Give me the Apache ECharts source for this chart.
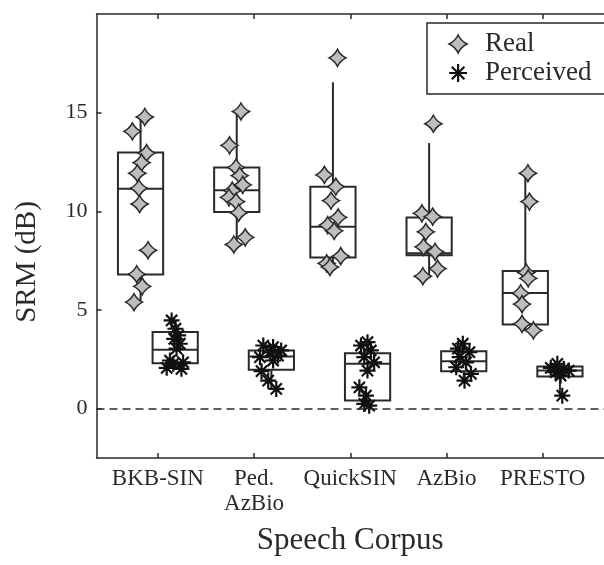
<!DOCTYPE html>
<html lang="en">
<head>
	<meta charset="UTF-8">
	<title>SRM by speech corpus</title>
	<script src="https://cdn.jsdelivr.net/npm/echarts@6/dist/echarts.min.js"></script>
	<style>
		html, body { margin: 0; padding: 0; background: #fff; }
	</style>
</head>
<body>
	<div id="chart" style="width: 604px;height: 565px;"></div>
	<script>
		var categories = ['BKB-SIN', 'Ped.\nAzBio', 'QuickSIN', 'AzBio', 'PRESTO'];
		var yTicks = [0, 5, 10, 15];

		// box stats: [low whisker, q1, median, q3, high whisker]
		var realBoxes = [
			[5.4, 6.8, 11.15, 12.98, 14.78],
			[8.32, 9.96, 11.07, 12.22, 15.06],
			[7.18, 7.66, 9.22, 11.25, 16.54],
			[6.71, 7.78, 7.88, 9.69, 13.46],
			[3.97, 4.27, 5.86, 6.98, 11.93]
		];
		var perceivedBoxes = [
			[2.02, 2.30, 2.98, 3.88, 4.47],
			[1.0, 1.97, 2.64, 2.95, 3.2],
			[0.15, 0.41, 2.27, 2.81, 3.37],
			[1.42, 1.9, 2.4, 2.91, 3.29],
			[0.66, 1.63, 1.93, 2.14, 2.27]
		];

		// individual values per corpus
		var realValues = [
			[14.78, 14.05, 12.95, 12.47, 11.93, 11.17, 10.37, 8.03, 6.81, 6.2, 5.4],
			[15.06, 13.34, 12.22, 11.81, 11.34, 11.05, 10.71, 10.49, 9.93, 8.68, 8.32],
			[17.78, 11.85, 11.25, 10.54, 9.69, 9.30, 9.01, 7.73, 7.36, 7.18],
			[14.44, 9.9, 9.73, 8.96, 8.2, 7.95, 7.1, 6.71],
			[11.93, 10.49, 6.9, 6.6, 5.85, 5.3, 4.3, 3.97]
		];
		var realJitter = [
			[-0.136, -0.265, -0.118, -0.169, -0.214, -0.197, -0.19, -0.102, -0.22, -0.163, -0.248],
			[-0.136, -0.255, -0.187, -0.149, -0.118, -0.227, -0.261, -0.187, -0.159, -0.092, -0.21],
			[-0.133, -0.269, -0.15, -0.2, -0.126, -0.234, -0.167, -0.099, -0.245, -0.211],
			[-0.136, -0.255, -0.143, -0.214, -0.238, -0.118, -0.092, -0.245],
			[-0.153, -0.137, -0.17, -0.15, -0.228, -0.214, -0.214, -0.096]
		];
		var perceivedValues = [
			[4.47, 4.05, 3.71, 3.54, 3.29, 3.04, 2.44, 2.35, 2.07, 2.02, 2.27],
			[3.2, 3.12, 2.95, 2.86, 2.69, 2.61, 2.44, 1.9, 1.42, 1.0],
			[3.37, 3.2, 2.95, 2.61, 2.35, 1.93, 1.08, 0.66, 0.15, 0.24],
			[3.29, 3.04, 2.86, 2.61, 2.35, 2.1, 1.76, 1.42],
			[2.27, 2.07, 2.02, 1.85, 1.93, 1.68, 0.66]
		];
		var perceivedJitter = [
			[0.143, 0.183, 0.211, 0.17, 0.228, 0.194, 0.126, 0.262, 0.092, 0.245, 0.16],
			[0.096, 0.198, 0.282, 0.163, 0.249, 0.061, 0.198, 0.078, 0.147, 0.231],
			[0.179, 0.112, 0.214, 0.146, 0.248, 0.179, 0.095, 0.163, 0.197, 0.146],
			[0.17, 0.119, 0.239, 0.137, 0.204, 0.102, 0.255, 0.188],
			[0.153, 0.085, 0.22, 0.136, 0.271, 0.187, 0.204]
		];

		var boxShift = 0.18;
		var boxHalf = 0.235;
		var font = '"Liberation Serif", "Times New Roman", serif';
		var ink = '#2a2a2a';

		var diamond = 'path://M10,0 Q13.3,6.7 20,10 Q13.3,13.3 10,20 Q6.7,13.3 0,10 Q6.7,6.7 10,0 Z';
		var star = 'path://M0,10 L20,10 M10,0 L10,20 M3,3 L17,17 M17,3 L3,17';

		function boxData(boxes, shift) {
			return boxes.map(function (b, i) {
				return [i + 1 + shift].concat(b);
			});
		}
		function pointData(values, jitter) {
			var out = [];
			values.forEach(function (list, i) {
				list.forEach(function (v, j) {
					out.push([i + 1 + jitter[i][j], v]);
				});
			});
			return out;
		}

		function renderBox(params, api) {
			var c = api.value(0);
			var lo = api.value(1), q1 = api.value(2), md = api.value(3), q3 = api.value(4), hi = api.value(5);
			var tl = api.coord([c - boxHalf, q3]);
			var br = api.coord([c + boxHalf, q1]);
			var ml = api.coord([c - boxHalf, md]);
			var mr = api.coord([c + boxHalf, md]);
			var top = api.coord([c, hi]);
			var bot = api.coord([c, lo]);
			var st = { stroke: ink, lineWidth: 2, fill: null };
			return {
				type: 'group',
				children: [
					{ type: 'line', shape: { x1: top[0], y1: tl[1], x2: top[0], y2: top[1] }, style: st },
					{ type: 'line', shape: { x1: bot[0], y1: br[1], x2: bot[0], y2: bot[1] }, style: st },
					{ type: 'rect', shape: { x: tl[0], y: tl[1], width: br[0] - tl[0], height: br[1] - tl[1] }, style: st },
					{ type: 'line', shape: { x1: ml[0], y1: ml[1], x2: mr[0], y2: mr[1] }, style: st }
				]
			};
		}

		var xMin = 0.362, xMax = 5.638;

		var option = {
			animation: false,
			textStyle: { fontFamily: font, color: ink },
			grid: { left: 96.5, right: -10, top: 14, bottom: 107 },
			legend: {
				orient: 'vertical',
				left: 427,
				top: 23,
				padding: [7, 17, 7, 21],
				itemGap: 1,
				itemWidth: 44,
				itemHeight: 18,
				symbolKeepAspect: true,
				borderColor: ink,
				borderWidth: 1.5,
				textStyle: { fontFamily: font, fontSize: 27, lineHeight: 28, color: ink },
				data: [
					{ name: 'Real', icon: diamond, itemStyle: { color: '#bdbdbd', borderColor: ink, borderWidth: 1.5 } },
					{ name: 'Perceived', icon: star, itemStyle: { color: 'rgba(0,0,0,0)', borderColor: '#111', borderWidth: 2.2 } }
				]
			},
			xAxis: [{
				type: 'value',
				min: xMin,
				max: xMax,
				position: 'bottom',
				name: 'Speech Corpus',
				nameLocation: 'middle',
				nameGap: 67,
				nameTextStyle: { fontFamily: font, fontSize: 31, color: ink },
				axisLine: { onZero: false, lineStyle: { color: ink, width: 1.5 } },
				axisTick: { inside: true, length: 5, customValues: [1, 2, 3, 4, 5], lineStyle: { color: ink, width: 1.5 } },
				axisLabel: {
					customValues: [1, 2, 3, 4, 5],
					margin: 8,
					fontFamily: font,
					fontSize: 23,
					lineHeight: 25,
					color: ink,
					verticalAlign: 'top',
					formatter: function (v) { return categories[Math.round(v) - 1]; }
				},
				splitLine: { show: false }
			}, {
				type: 'value',
				min: xMin,
				max: xMax,
				position: 'top',
				axisLine: { onZero: false, lineStyle: { color: ink, width: 1.5 } },
				axisTick: { inside: true, length: 5, customValues: [1, 2, 3, 4, 5], lineStyle: { color: ink, width: 1.5 } },
				axisLabel: { show: false },
				splitLine: { show: false }
			}],
			yAxis: {
				type: 'value',
				min: -2.5,
				max: 20,
				axisLine: { show: true, onZero: false, lineStyle: { color: ink, width: 1.5 } },
				axisTick: { inside: true, length: 5, customValues: yTicks, lineStyle: { color: ink, width: 1.5 } },
				axisLabel: { customValues: yTicks, margin: 9, fontFamily: font, fontSize: 22, color: ink },
				splitLine: { show: false }
			},
			graphic: [{
				type: 'text',
				x: 27,
				y: 262,
				rotation: Math.PI / 2,
				style: {
					text: 'SRM (dB)',
					fontFamily: font,
					fontSize: 29,
					fill: ink,
					align: 'center',
					verticalAlign: 'middle'
				}
			}],
			series: [{
				type: 'custom',
				name: 'realBox',
				renderItem: renderBox,
				data: boxData(realBoxes, -boxShift),
				z: 2,
				silent: true,
				markLine: {
					silent: true,
					symbol: 'none',
					label: { show: false },
					lineStyle: { color: ink, width: 1.6, type: [8, 5] },
					data: [{ yAxis: 0 }]
				}
			}, {
				type: 'custom',
				name: 'perceivedBox',
				renderItem: renderBox,
				data: boxData(perceivedBoxes, boxShift),
				z: 2,
				silent: true
			}, {
				type: 'scatter',
				name: 'Real',
				symbol: diamond,
				symbolSize: 17,
				itemStyle: { color: '#bdbdbd', borderColor: ink, borderWidth: 1.5, opacity: 1 },
				data: pointData(realValues, realJitter),
				z: 3
			}, {
				type: 'scatter',
				name: 'Perceived',
				symbol: star,
				symbolSize: 16,
				itemStyle: { color: 'rgba(0,0,0,0)', borderColor: '#111', borderWidth: 2.2, opacity: 1 },
				data: pointData(perceivedValues, perceivedJitter),
				z: 4
			}]
		};

		var myChart = echarts.init(document.getElementById('chart'));
		myChart.setOption(option);
	</script>
</body>
</html>
